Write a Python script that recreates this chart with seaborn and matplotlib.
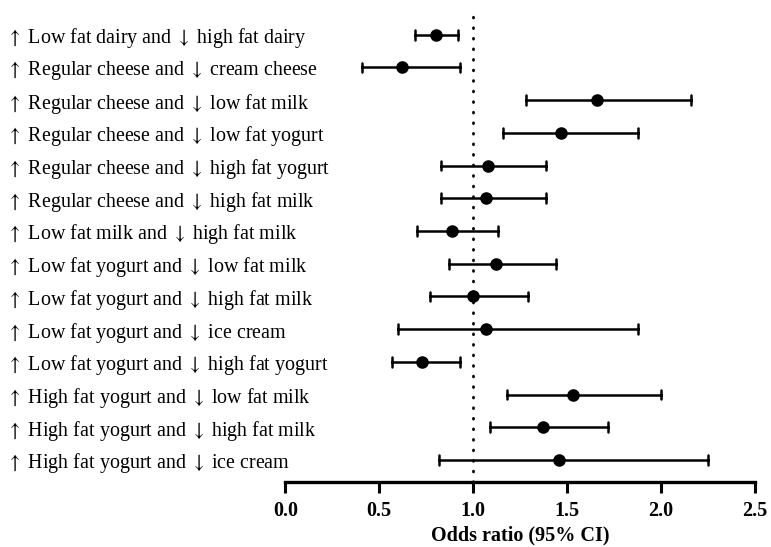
import numpy as np
import pandas as pd
import matplotlib
matplotlib.use("Agg")
import matplotlib.pyplot as plt
import seaborn as sns

# 01- Data
labels = [
    "↑ Low fat dairy and ↓ high fat dairy",
    "↑ Regular cheese and ↓ cream cheese",
    "↑ Regular cheese and ↓ low fat milk",
    "↑ Regular cheese and ↓ low fat yogurt",
    "↑ Regular cheese and ↓ high fat yogurt",
    "↑ Regular cheese and ↓ high fat milk",
    "↑ Low fat milk and ↓ high fat milk",
    "↑ Low fat yogurt and ↓ low fat milk",
    "↑ Low fat yogurt and ↓ high fat milk",
    "↑ Low fat yogurt and ↓ ice cream",
    "↑ Low fat yogurt and ↓ high fat yogurt",
    "↑ High fat yogurt and ↓ low fat milk",
    "↑ High fat yogurt and ↓ high fat milk",
    "↑ High fat yogurt and ↓ ice cream",
]
odds_ratio = [0.80, 0.62, 1.66, 1.47, 1.08, 1.07, 0.89, 1.12, 1.00, 1.07, 0.73, 1.53, 1.37, 1.46]
ci_low = [0.69, 0.41, 1.28, 1.16, 0.83, 0.83, 0.70, 0.87, 0.77, 0.60, 0.57, 1.18, 1.09, 0.82]
ci_high = [0.92, 0.93, 2.16, 1.88, 1.39, 1.39, 1.13, 1.44, 1.29, 1.88, 0.93, 2.00, 1.72, 2.25]
xticks = [0.0, 0.5, 1.0, 1.5, 2.0, 2.5]

# long table: median of (low, OR, high) = OR, min/max = CI
df = pd.DataFrame({
    "comparison": labels * 3,
    "value": ci_low + odds_ratio + ci_high,
})

# 02- Plot
sns.set_style("white")
plt.rcParams["font.family"] = ["Liberation Serif", "DejaVu Serif"]
plt.rcParams["mathtext.fontset"] = "stix"
for key in ["text.color", "axes.labelcolor", "xtick.color", "ytick.color", "axes.edgecolor"]:
    plt.rcParams[key] = "black"

fig = plt.figure(figsize=(7.71, 5.47), dpi=100)
ax = fig.add_axes([0.37, 0.119, 0.609, 0.863])

sns.pointplot(data=df, x="value", y="comparison", order=labels,
              estimator="median", errorbar=("pi", 100),
              linestyle="none", marker="o", markersize=7,
              color="black", capsize=0.3,
              err_kws={"linewidth": 1.8}, ax=ax)

ax.axvline(1.0, color="black", linestyle=(0, (0.3, 3.5)), linewidth=2,
           dash_capstyle="round", zorder=0)

ax.set_xlim(0, 2.5)
ax.set_ylim(13.67, -0.76)
ax.set_xticks(xticks)
ax.set_xticklabels([f"{t:.1f}" for t in xticks], fontsize=14.5, fontweight="bold")
ax.set_xlabel("Odds ratio (95% CI)", fontsize=14.5, fontweight="bold", labelpad=3)
ax.set_ylabel("")

# nicer arrows via mathtext
shown = [l.replace("↑", r"$\uparrow$").replace("↓", r"$\downarrow$") for l in labels]
ax.set_yticks(range(len(labels)))
ax.set_yticklabels(shown)

for s in ["top", "right", "left"]:
    ax.spines[s].set_visible(False)
ax.spines["bottom"].set_linewidth(2.4)
ax.tick_params(axis="x", bottom=True, direction="out", length=8, width=2.2, pad=6)
ax.tick_params(axis="y", left=False, length=0, pad=200)
for lab in ax.get_yticklabels():
    lab.set_horizontalalignment("left")
    lab.set_fontsize(14.4)

plt.savefig("out.png", dpi=100)
